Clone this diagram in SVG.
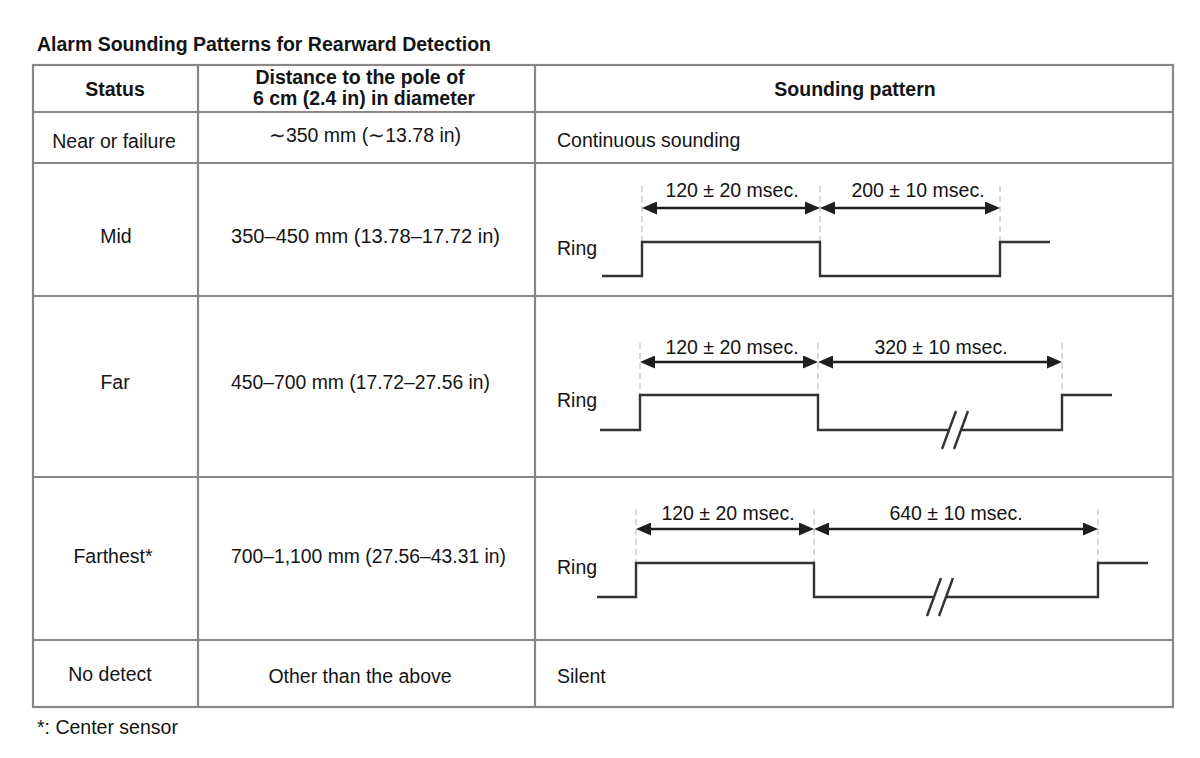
<svg xmlns="http://www.w3.org/2000/svg" width="1200" height="758" viewBox="0 0 1200 758">
<style>
  text { font-family: "Liberation Sans", Arial, sans-serif; font-size: 19.5px; fill: #141414; }
  .b { font-weight: bold; }
  .c { text-anchor: middle; }
  .grid { stroke: #8b8784; stroke-width: 2.2; fill: none; }
  .wave { stroke: #333; stroke-width: 2.4; fill: none; }
  .dash { stroke: #b4b4b4; stroke-width: 1; stroke-dasharray: 6 4; fill: none; }
  .dim { stroke: #1e1e1e; stroke-width: 2.6; fill: none; marker-start: url(#ah); marker-end: url(#ah); }
</style>
<defs>
  <marker id="ah" viewBox="0 0 15 13" refX="10" refY="6.5" markerWidth="15" markerHeight="13" markerUnits="userSpaceOnUse" orient="auto-start-reverse">
    <path d="M0,0 L15,6.5 L0,13 z" fill="#1e1e1e"/>
  </marker>
</defs>
<rect width="1200" height="758" fill="#ffffff"/>

<g id="title">
  <text class="b" x="37" y="51">Alarm Sounding Patterns for Rearward Detection</text>
</g>

<g id="table-grid">
  <rect class="grid" x="33" y="65" width="1140" height="642"/>
  <line class="grid" x1="33" y1="112" x2="1173" y2="112"/>
  <line class="grid" x1="33" y1="163" x2="1173" y2="163"/>
  <line class="grid" x1="33" y1="296" x2="1173" y2="296"/>
  <line class="grid" x1="33" y1="477" x2="1173" y2="477"/>
  <line class="grid" x1="33" y1="640" x2="1173" y2="640"/>
  <line class="grid" x1="198" y1="65" x2="198" y2="707"/>
  <line class="grid" x1="535" y1="65" x2="535" y2="707"/>
</g>

<g id="header">
  <text class="b c" x="115" y="96">Status</text>
  <text class="b c" x="360" y="84">Distance to the pole of</text>
  <text class="b c" x="364" y="105">6 cm (2.4 in) in diameter</text>
  <text class="b c" x="855" y="96">Sounding pattern</text>
</g>

<g id="row-near">
  <text class="c" x="114" y="148">Near or failure</text>
  <text class="c" x="365" y="142">∼350 mm (∼13.78 in)</text>
  <text x="557" y="147">Continuous sounding</text>
</g>

<g id="row-mid">
  <text class="c" x="116" y="243">Mid</text>
  <text x="231" y="243" textLength="269" lengthAdjust="spacingAndGlyphs">350–450 mm (13.78–17.72 in)</text>
  <text x="557" y="255">Ring</text>
  <path class="dash" d="M642,186 V242 M820,186 V242 M1000,186 V242"/>
  <path class="wave" d="M602,276 H642 V242 H820 V276 H1000 V242 H1050"/>
  <text class="c" x="732" y="197">120 ± 20 msec.</text>
  <text class="c" x="918" y="197">200 ± 10 msec.</text>
</g>

<g id="row-far">
  <text class="c" x="115" y="389">Far</text>
  <text x="231" y="389" textLength="259" lengthAdjust="spacingAndGlyphs">450–700 mm (17.72–27.56 in)</text>
  <text x="557" y="407">Ring</text>
  <path class="dash" d="M640,343 V395 M818,343 V395 M1062,343 V395"/>
  <path class="wave" d="M600,430 H640 V395 H818 V430 H949 M961,430 H1062 V395 H1112"/>
  <path class="wave" stroke-width="1.6" d="M942,449 L956,411 M954,449 L968,411"/>
  <text class="c" x="732" y="354">120 ± 20 msec.</text>
  <text class="c" x="941" y="354">320 ± 10 msec.</text>
</g>

<g id="row-farthest">
  <text class="c" x="113" y="563">Farthest*</text>
  <text x="231" y="563" textLength="275" lengthAdjust="spacingAndGlyphs">700–1,100 mm (27.56–43.31 in)</text>
  <text x="557" y="574">Ring</text>
  <path class="dash" d="M636,509 V563 M814,509 V563 M1098,509 V563"/>
  <path class="wave" d="M597,597 H636 V563 H814 V597 H934 M946,597 H1098 V563 H1148"/>
  <path class="wave" stroke-width="1.6" d="M927,616 L941,578 M939,616 L953,578"/>
  <text class="c" x="728" y="520">120 ± 20 msec.</text>
  <text class="c" x="956" y="520">640 ± 10 msec.</text>
</g>

<g id="row-nodetect">
  <text class="c" x="110" y="681">No detect</text>
  <text class="c" x="360" y="683">Other than the above</text>
  <text x="557" y="683">Silent</text>
</g>

<g id="footnote">
  <text x="37" y="734">*: Center sensor</text>
</g>

<g id="connectors">
  <line class="dim" x1="647" y1="208" x2="815" y2="208"/>
  <line class="dim" x1="825" y1="208" x2="995" y2="208"/>
  <line class="dim" x1="645" y1="362" x2="813" y2="362"/>
  <line class="dim" x1="823" y1="362" x2="1057" y2="362"/>
  <line class="dim" x1="641" y1="529" x2="809" y2="529"/>
  <line class="dim" x1="819" y1="529" x2="1093" y2="529"/>
</g>
</svg>
